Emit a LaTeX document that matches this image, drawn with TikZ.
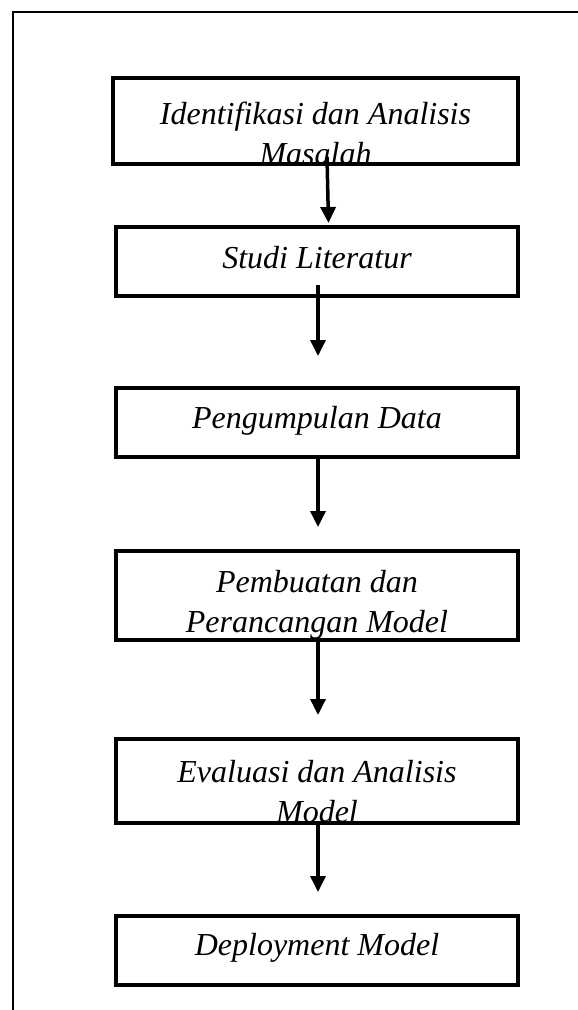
\documentclass[tikz,border=0pt]{standalone}
\usepackage{fontspec}
\setmainfont{Liberation Serif}
\usetikzlibrary{arrows.meta}
\tikzstyle{stepbox}=[draw, line width=4pt, inner sep=0pt, minimum width=402pt]
\tikzstyle{steptext}=[align=center, inner sep=0pt, font=\fontsize{32}{40}\selectfont\itshape]
\tikzstyle{flow}=[line width=3.5pt, -{Triangle[width=15pt,length=16pt]}]

\begin{document}
\begin{tikzpicture}[x=1pt, y=-1pt]
    \useasboundingbox (0,0) rectangle (578,1010);
% Frame
    \draw[line width=2pt] (13,1010) -- (13,11.5) -- (578,11.5);
% Steps
    \node[stepbox, minimum width=405pt, minimum height=86pt, path picture={
        \node[steptext] at ([yshift=-12pt]path picture bounding box.center) {Identifikasi dan Analisis\\Masalah};
    }] (ident) at (315.5,121) {};
    \node[stepbox, minimum height=69pt, path picture={
        \node[steptext] at ([yshift=4pt]path picture bounding box.center) {Studi Literatur};
    }] (studi) at (317,261.5) {};
    \node[stepbox, minimum height=69pt, path picture={
        \node[steptext] at ([yshift=2pt]path picture bounding box.center) {Pengumpulan Data};
    }] (data) at (317,422.5) {};
    \node[stepbox, minimum height=89pt, path picture={
        \node[steptext] at ([yshift=-9pt]path picture bounding box.center) {Pembuatan dan\\Perancangan Model};
    }] (model) at (317,595.5) {};
    \node[stepbox, minimum height=84pt, path picture={
        \node[steptext] at ([yshift=-11pt]path picture bounding box.center) {Evaluasi dan Analisis\\Model};
    }] (eval) at (317,781) {};
    \node[stepbox, minimum height=69pt, path picture={
        \node[steptext] at ([yshift=3pt]path picture bounding box.center) {Deployment Model};
    }] (deploy) at (317,950.5) {};
% Arrows
    \draw[flow] ([xshift=11.5pt, yshift=9pt]ident.south) -- ([xshift=11.5pt, yshift=2pt]studi.north);
    \draw[flow] ([xshift=1pt, yshift=13pt]studi.south) -- ([xshift=1pt, yshift=30pt]data.north);
    \draw[flow] ([xshift=1pt]data.south) -- ([xshift=1pt, yshift=22pt]model.north);
    \draw[flow] ([xshift=1pt]model.south) -- ([xshift=1pt, yshift=22pt]eval.north);
    \draw[flow] ([xshift=1pt]eval.south) -- ([xshift=1pt, yshift=22pt]deploy.north);
\end{tikzpicture}
\end{document}
